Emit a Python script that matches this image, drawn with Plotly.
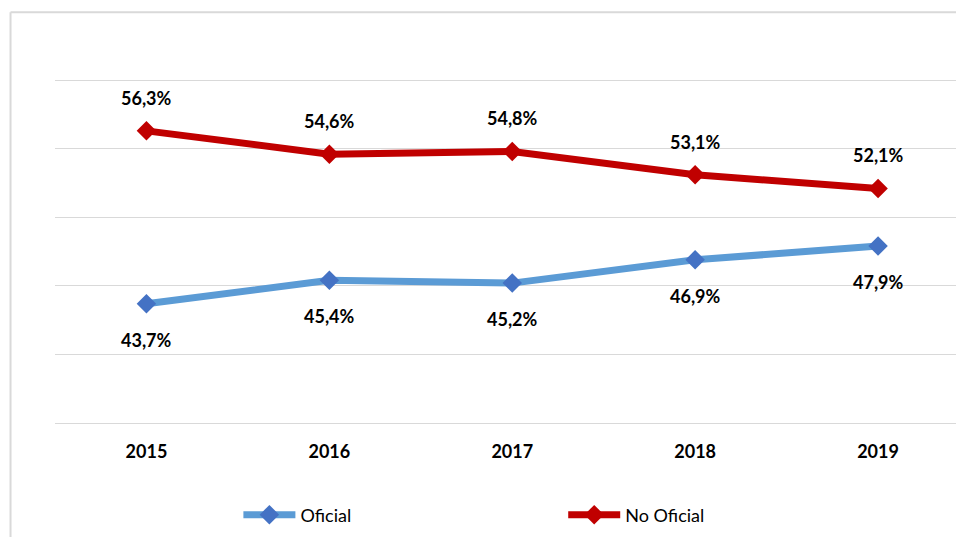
import plotly.graph_objects as go

years = ["2015", "2016", "2017", "2018", "2019"]
oficial = [43.7, 45.4, 45.2, 46.9, 47.9]
no_oficial = [56.3, 54.6, 54.8, 53.1, 52.1]

W, H = 956, 537
Y_TOP = 60.3
PX_PER_UNIT = 68.6 / 5
L, R, B = 54.5, 0, 114
T = 80 - (Y_TOP - 60) * PX_PER_UNIT
plot_w = W - L - R
plot_h = H - T - B

def fmt(v):
    return f"{v:.1f}%".replace(".", ",")

def px_x(p):
    return (p - L) / plot_w

def px_y(p):
    return 1 - (p - T) / plot_h

fig = go.Figure()
fig.add_trace(go.Scatter(
    x=years, y=oficial, name="Oficial", mode="lines+markers",
    line=dict(color="#5B9BD5", width=7),
    marker=dict(symbol="diamond", size=15, color="#4472C4"),
    legend="legend",
))
fig.add_trace(go.Scatter(
    x=years, y=no_oficial, name="No Oficial", mode="lines+markers",
    line=dict(color="#C00000", width=7),
    marker=dict(symbol="diamond", size=15, color="#C00000"),
    legend="legend2",
))

lab_font = dict(family="Lato", size=18, color="#000000", weight="bold")
annotations = []
for i, v in enumerate(no_oficial):
    annotations.append(dict(x=i, y=v, xref="x", yref="y", text=fmt(v), showarrow=False,
                            yshift=33, font=lab_font))
for i, v in enumerate(oficial):
    annotations.append(dict(x=i, y=v, xref="x", yref="y", text=fmt(v), showarrow=False,
                            yshift=-36, font=lab_font))

shapes = [
    dict(type="line", xref="paper", yref="paper", x0=px_x(10), x1=px_x(10), y0=px_y(12), y1=px_y(545),
         line=dict(color="#D9D9D9", width=2)),
    dict(type="line", xref="paper", yref="paper", x0=px_x(10), x1=px_x(960), y0=px_y(12), y1=px_y(12),
         line=dict(color="#D9D9D9", width=2)),
]

leg_common = dict(orientation="h", xanchor="left", yanchor="middle", y=px_y(515),
                  font=dict(size=18, family="Lato", color="#000000"),
                  bgcolor="rgba(0,0,0,0)", itemwidth=52)

fig.update_layout(
    width=W, height=H,
    margin=dict(l=L, r=R, t=T, b=B, pad=0),
    paper_bgcolor="white", plot_bgcolor="white",
    font=dict(family="Lato", color="#000000"),
    xaxis=dict(type="category", range=[-0.5, -0.5 + plot_w / 183.0],
               showgrid=False, showline=True, linecolor="#D9D9D9", linewidth=1,
               ticks="", tickfont=dict(size=18, weight="bold", family="Lato", color="#000000"),
               ticklabelstandoff=12),
    yaxis=dict(range=[35, Y_TOP], dtick=5, tick0=35, showgrid=True, gridcolor="#D9D9D9", gridwidth=1,
               showticklabels=False, zeroline=False, showline=False, ticks=""),
    legend=dict(x=px_x(238), **leg_common),
    legend2=dict(x=px_x(563), **leg_common),
    annotations=annotations,
    shapes=shapes,
    showlegend=True,
)

fig.write_html("out.html", config={"displayModeBar": False},
               post_script="document.body.style.margin='0';document.body.style.overflow='hidden';")
